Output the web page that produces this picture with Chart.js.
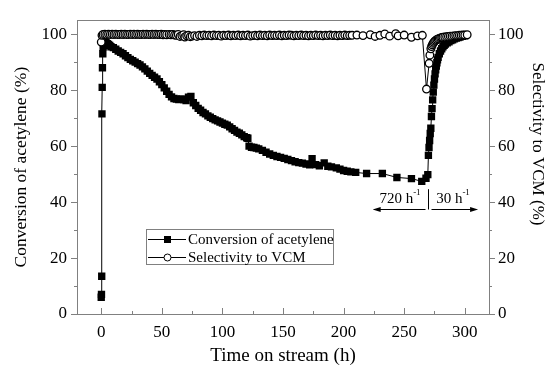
<!DOCTYPE html>
<html>
<head>
<meta charset="utf-8">
<script src="https://cdn.jsdelivr.net/npm/chart.js"></script>
<style>
  html, body { margin: 0; padding: 0; background: #fff; }
  #wrap { width: 551px; height: 367px; }
</style>
</head>
<body>
<div id="wrap"><canvas id="chart"></canvas></div>
<script>
/*
-------------------------------------
/// data
-------------------------------------
*/
const convTime = [0, 0.2, 0.4, 0.6, 0.8, 1, 1.3, 1.6, 2, 3, 4, 5, 6, 7, 8, 10, 12, 14, 16, 18,
  20, 22, 24, 26, 28, 30, 32, 34, 36, 38, 40, 42, 44, 46, 48, 50, 52, 54, 56, 58,
  60, 62, 64, 66, 68, 70, 72, 74, 76, 78, 80, 82, 84, 86, 88, 90, 92, 94, 96, 98,
  100, 102, 104, 106, 108, 110, 112, 114, 116, 118, 120, 121, 122, 124, 126, 128, 130, 133, 136, 139,
  142, 145, 148, 151, 154, 157, 160, 163, 166, 169, 172, 174, 177, 180, 184, 187, 190, 194, 197, 200,
  203, 206, 210, 219, 232, 244, 256, 264.5, 268, 269.5, 270, 270.5, 271, 271.5, 272, 272.5, 273, 273.5,
  274, 274.5, 275, 275.5, 276, 276.5, 277, 277.5, 278, 279, 280, 281, 282, 283, 284, 285.5, 287, 288.5,
  290, 291.5, 293, 294.5, 296, 298, 300];
const convValue = [6, 7, 13.5, 71.5, 81, 88, 93, 95.5, 96.8, 97.2, 97, 96.6, 96.3, 96, 95.5, 95.2, 94.6, 94, 93.5, 93,
  92.3, 91.6, 91, 90.5, 90, 89.5, 89, 88.3, 87.6, 86.8, 86, 85.3, 84.6, 84, 83, 82, 80.8, 79.6, 78.5, 77.6,
  77, 76.8, 76.6, 76.9, 76.6, 76.3, 77.5, 77.8, 75.5, 74.5, 73.5, 72.8, 72, 71.5, 70.8, 70.3, 69.8, 69.4, 69, 68.6,
  68.2, 67.8, 67.5, 66.9, 66.2, 65.6, 65, 64.6, 64, 63.4, 63, 62.8, 60, 59.6, 59.5, 59.3, 59, 58.5, 57.8, 57.2,
  56.7, 56.3, 56, 55.6, 55.2, 54.8, 54.4, 54.1, 53.9, 53.6, 53.3, 55.5, 53.4, 53, 54, 52.8, 52.6, 52.2, 51.8, 51.3,
  51, 50.8, 50.6, 50.2, 50.2, 48.8, 48.4, 47.4, 48.5, 49.8, 56.7, 59.5, 62, 64.5, 66.4, 70.6, 73.4, 76.5,
  79.3, 81.8, 84, 85.8, 87.3, 88.6, 89.8, 90.8, 91.7, 93, 94, 94.8, 95.5, 96, 96.5, 96.9, 97.3, 97.7,
  98, 98.3, 98.6, 98.8, 99, 99.2, 99.4];

const selTime = [0, 0.6, 1.5, 3, 4.5, 6, 7.5, 9, 10.5, 12, 13.5, 15, 16.5, 18, 19.5, 21, 22.5, 24, 25.5, 27,
  28.5, 30, 31.5, 33, 34.5, 36, 37.5, 39, 40.5, 42, 43.5, 45, 46.5, 48, 49.5, 51, 52.5, 54, 56, 57.5,
  59, 60.5, 62, 63.5, 65, 66.5, 68, 69, 70.5, 72, 73.5, 75, 77, 79, 81, 83, 85, 87, 89, 91,
  93, 95, 97, 99, 101, 103, 105, 107, 109, 111, 113, 115, 117, 119, 121, 123, 125, 127, 129, 131,
  133, 135, 137, 139, 141, 143, 145, 147, 149, 151, 153, 155, 157, 159, 161, 163, 165, 167, 169, 171,
  173, 175, 177, 179, 181, 183, 185, 187, 189, 191, 193, 195, 197, 199, 201, 203, 205, 207, 211, 216,
  222, 226, 230, 234, 238, 243, 245, 250, 256, 261, 265, 268.4, 270.6, 271.2, 272, 272.6, 273.2, 273.8, 274.5, 275.2,
  276, 277, 278, 279, 280, 281, 282, 283.5, 285, 286.5, 288, 289.5, 291, 292.5, 294, 295.5, 297, 298.5, 300, 302];
const selValue = [97.2, 99.6, 99.9, 100, 99.9, 100, 99.9, 100, 99.9, 100, 99.9, 99.9, 100, 99.9, 100, 99.9, 99.9, 100, 99.9, 100,
  99.9, 100, 99.9, 99.9, 100, 99.9, 100, 99.9, 99.9, 100, 99.9, 100, 99.9, 99.9, 100, 99.8, 99.9, 99.8, 99.9, 99.8,
  99.9, 99.7, 99.6, 99.9, 99.2, 99.5, 99.8, 99, 99.4, 99.6, 99.1, 99.3, 99.5, 99.2, 99.6, 99.4, 99.7, 99.5, 99.6, 99.4,
  99.7, 99.5, 99.6, 99.3, 99.6, 99.5, 99.7, 99.4, 99.6, 99.5, 99.7, 99.4, 99.6, 99.5, 99.7, 99.3, 99.5, 99.6, 99.4, 99.7,
  99.5, 99.6, 99.4, 99.7, 99.5, 99.6, 99.5, 99.7, 99.4, 99.6, 99.5, 99.7, 99.6, 99.4, 99.6, 99.5, 99.7, 99.5, 99.6, 99.4,
  99.6, 99.5, 99.7, 99.5, 99.6, 99.4, 99.6, 99.5, 99.7, 99.5, 99.6, 99.4, 99.6, 99.5, 99.7, 99.5, 99.6, 99.6, 99.7, 99.5,
  99.8, 99.2, 99.6, 100.1, 99.3, 100.2, 99.4, 99.7, 98.9, 99.4, 99.6, 80.4, 89.6, 92.5, 94.8, 95.6, 96.2, 96.7, 97.1, 97.5,
  97.8, 98.1, 98.3, 98.5, 98.7, 98.8, 98.9, 99, 99.1, 99.2, 99.3, 99.3, 99.4, 99.5, 99.5, 99.6, 99.6, 99.7, 99.7, 99.8];

const seriesNames = ['Conversion of acetylene', 'Selectivity to VCM'];
const xTickValues = [0, 50, 100, 150, 200, 250, 300];
const xMinorTicks = [25, 75, 125, 175, 225, 275];
const yTickValues = [0, 20, 40, 60, 80, 100];
const yMinorTicks = [10, 30, 50, 70, 90];
const rateLabels = ['720 h', '30 h'];

/*
-------------------------------------
/// styles
-------------------------------------
*/
const FONT = "'Liberation Serif', 'Times New Roman', serif";
const GREY = '#808080';

function toPoints(xs, ys) {
  return xs.map((x, i) => ({ x: x, y: ys[i] }));
}

/*
-------------------------------------
/// frame + inward/outward ticks
-------------------------------------
*/
const frameTicks = {
  id: 'frameTicks',
  afterDatasetsDraw(chart) {
    const { ctx, chartArea: a, scales } = chart;
    ctx.save();
    ctx.strokeStyle = GREY;
    ctx.lineWidth = 1;
    ctx.strokeRect(Math.round(a.left) + 0.5, Math.round(a.top) + 0.5,
      Math.round(a.right - a.left), Math.round(a.bottom - a.top));
    ctx.beginPath();
    const xt = (v, len) => {
      const px = Math.round(scales.x.getPixelForValue(v)) + 0.5;
      ctx.moveTo(px, a.bottom);
      ctx.lineTo(px, a.bottom - len);
    };
    xTickValues.forEach(v => xt(v, 6));
    xMinorTicks.forEach(v => xt(v, 3));
    const yt = (v, len) => {
      const py = Math.round(scales.y.getPixelForValue(v)) + 0.5;
      ctx.moveTo(a.left, py);
      ctx.lineTo(a.left - len, py);
      ctx.moveTo(a.right, py);
      ctx.lineTo(a.right + len, py);
    };
    yTickValues.forEach(v => yt(v, 6));
    yMinorTicks.forEach(v => yt(v, 3));
    ctx.stroke();
    ctx.restore();
  }
};

/*
-------------------------------------
/// legend box, rate notes, right title
-------------------------------------
*/
const extras = {
  id: 'extras',
  afterDraw(chart) {
    const { ctx, scales } = chart;
    const ds = chart.data.datasets;
    ctx.save();

    // legend
    ctx.strokeStyle = GREY;
    ctx.lineWidth = 1;
    ctx.strokeRect(146.5, 229.5, 187, 35);
    ctx.font = '15px ' + FONT;
    ctx.fillStyle = '#000';
    ctx.textBaseline = 'middle';
    ctx.textAlign = 'left';
    [0, 1].forEach(i => {
      const y = 239 + i * 18;
      ctx.strokeStyle = '#000';
      ctx.beginPath();
      ctx.moveTo(148, y + 0.5);
      ctx.lineTo(186, y + 0.5);
      ctx.stroke();
      if (i === 0) {
        ctx.fillStyle = '#000';
        ctx.fillRect(164, y - 3, 7, 7);
      } else {
        ctx.beginPath();
        ctx.arc(167.5, y + 0.5, 3.5, 0, Math.PI * 2);
        ctx.fillStyle = '#fff';
        ctx.fill();
        ctx.stroke();
      }
      ctx.fillStyle = '#000';
      ctx.fillText(ds[i].label, 188, y + 1);
    });

    // space velocity notes
    const x = scales.x, y = scales.y;
    const split = Math.round(x.getPixelForValue(269.3)) + 0.5;
    const arrowY = Math.round(y.getPixelForValue(37.5)) + 0.5;
    const leftEnd = x.getPixelForValue(224);
    const rightEnd = x.getPixelForValue(311);
    ctx.strokeStyle = '#000';
    ctx.beginPath();
    ctx.moveTo(split, y.getPixelForValue(44.6));
    ctx.lineTo(split, arrowY);
    ctx.moveTo(split - 3, arrowY);
    ctx.lineTo(leftEnd + 6, arrowY);
    ctx.moveTo(split + 3, arrowY);
    ctx.lineTo(rightEnd - 6, arrowY);
    ctx.stroke();
    ctx.fillStyle = '#000';
    ctx.beginPath();
    ctx.moveTo(leftEnd, arrowY);
    ctx.lineTo(leftEnd + 8, arrowY - 2.5);
    ctx.lineTo(leftEnd + 8, arrowY + 2.5);
    ctx.closePath();
    ctx.moveTo(rightEnd, arrowY);
    ctx.lineTo(rightEnd - 8, arrowY - 2.5);
    ctx.lineTo(rightEnd - 8, arrowY + 2.5);
    ctx.closePath();
    ctx.fill();

    const textY = y.getPixelForValue(41.2);
    const note = (label, cx) => {
      ctx.font = '15px ' + FONT;
      const w1 = ctx.measureText(label).width;
      ctx.font = '9px ' + FONT;
      const w2 = ctx.measureText('-1').width;
      const start = cx - (w1 + w2) / 2;
      ctx.font = '15px ' + FONT;
      ctx.textAlign = 'left';
      ctx.textBaseline = 'middle';
      ctx.fillText(label, start, textY);
      ctx.font = '9px ' + FONT;
      ctx.fillText('-1', start + w1, textY - 6);
    };
    note(rateLabels[0], 400);
    note(rateLabels[1], 453);

    // right axis title
    ctx.font = '17px ' + FONT;
    ctx.fillStyle = '#000';
    ctx.translate(537, 144);
    ctx.rotate(Math.PI / 2);
    ctx.textAlign = 'center';
    ctx.textBaseline = 'middle';
    ctx.fillText('Selectivity to VCM (%)', 0, 0);

    ctx.restore();
  }
};

/*
-------------------------------------
/// chart
-------------------------------------
*/
const tickFont = { family: FONT, size: 17 };

new Chart(document.getElementById('chart'), {
  type: 'scatter',
  data: {
    datasets: [{
      label: seriesNames[0],
      data: toPoints(convTime, convValue),
      showLine: true,
      borderColor: '#000',
      borderWidth: 1,
      pointStyle: 'rect',
      pointRadius: 5.2,
      pointBackgroundColor: '#000',
      pointBorderColor: '#000',
      pointBorderWidth: 0,
      yAxisID: 'y',
      order: 1
    }, {
      label: seriesNames[1],
      data: toPoints(selTime, selValue),
      showLine: true,
      borderColor: '#000',
      borderWidth: 1,
      pointStyle: 'circle',
      pointRadius: 3.8,
      pointBackgroundColor: '#fff',
      pointBorderColor: '#000',
      pointBorderWidth: 1.3,
      yAxisID: 'y2',
      order: 0
    }]
  },
  options: {
    responsive: true,
    maintainAspectRatio: false,
    animation: false,
    layout: { padding: { top: 12, left: 0, right: 0, bottom: 0 } },
    plugins: { legend: { display: false }, tooltip: { enabled: false } },
    scales: {
      x: {
        type: 'linear', min: -20, max: 320,
        afterBuildTicks: s => { s.ticks = xTickValues.map(v => ({ value: v })); },
        afterFit: s => { s.height = 53; },
        grid: { display: false, drawTicks: false },
        border: { display: false },
        ticks: { color: '#000', font: tickFont, padding: 8, maxRotation: 0, autoSkip: false },
        title: { display: true, text: 'Time on stream (h)', color: '#000',
          font: { family: FONT, size: 19 }, padding: { top: 0, bottom: 0 } }
      },
      y: {
        position: 'left', min: 0, max: 105,
        afterBuildTicks: s => { s.ticks = yTickValues.map(v => ({ value: v })); },
        afterFit: s => { s.width = 77; },
        grid: { display: false, drawTicks: false },
        border: { display: false },
        ticks: { color: '#000', font: tickFont, padding: 10, autoSkip: false },
        title: { display: true, text: 'Conversion of acetylene (%)', color: '#000',
          font: { family: FONT, size: 17.5 }, padding: { top: 11, bottom: 0 } }
      },
      y2: {
        position: 'right', min: 0, max: 105,
        afterBuildTicks: s => { s.ticks = yTickValues.map(v => ({ value: v })); },
        afterFit: s => { s.width = 62; },
        grid: { display: false, drawTicks: false },
        border: { display: false },
        ticks: { color: '#000', font: tickFont, padding: 9, autoSkip: false }
      }
    }
  },
  plugins: [frameTicks, extras]
});
</script>
</body>
</html>
